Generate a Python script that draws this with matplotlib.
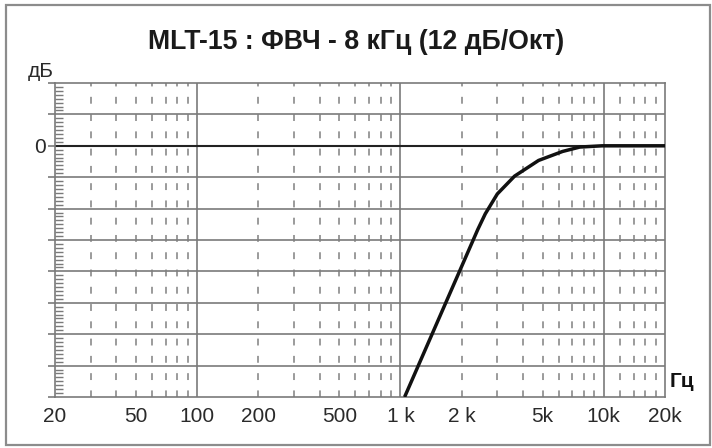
import numpy as np
import matplotlib
matplotlib.use("Agg")
import matplotlib.pyplot as plt
from matplotlib.patches import Rectangle

plt.rcParams['font.family'] = ['Liberation Sans', 'DejaVu Sans']

title = "MLT-15 : ФВЧ - 8 кГц (12 дБ/Окт)"

# response curve
freq = [1048, 2400, 2613, 2995, 3640, 4777, 6270, 7619, 9817, 20000]
db = [-24, -8.0, -6.5, -4.6, -2.9, -1.4, -0.54, -0.12, 0, 0]

x_ticks = [20, 50, 100, 200, 500, 1000, 2000, 5000, 10000, 20000]
x_labels = ["20", "50", "100", "200", "500", "1 k", "2 k", "5k", "10k", "20k"]
decades = [100, 1000, 10000]
minor_f = [30, 40, 50, 60, 70, 80, 90,
           200, 300, 400, 500, 600, 700, 800, 900,
           2000, 3000, 4000, 5000, 6000, 7000, 8000, 9000,
           12000, 14000, 16000, 18000]
y_grid = [3, 0, -3, -6, -9, -12, -15, -18, -21]
y_min, y_max = -24, 6

grid_c = "#7a7a7a"
text_c = "#2a2a2a"

fig = plt.figure(figsize=(7.12, 4.48), dpi=100)
fig.patches.append(Rectangle((6 / 712, 3 / 448), 704 / 712, 440 / 448, transform=fig.transFigure,
                             fill=False, edgecolor="#8c8c8c", linewidth=1.6))

ax = fig.add_axes([55 / 712, 1 - 397 / 448, 610 / 712, 314 / 448])
ax.set_xscale("log")
ax.set_xlim(20, 20000)
ax.set_ylim(y_min, y_max)

# dashed minor verticals, dashes centred on every grid line and half-step
period = 314 / 20 * 0.72
on = 4.5
for f in minor_f:
    ax.plot([f, f], [y_max, y_min], color="#808080", lw=1.1,
            linestyle=(on / 2, (on, period - on)), zorder=2)
for f in decades:
    ax.plot([f, f], [y_max, y_min], color=grid_c, lw=1.2, zorder=1)
for y in y_grid:
    if y == 0:
        continue
    ax.axhline(y, color=grid_c, lw=1.2, zorder=1)
ax.axhline(0, color="#222222", lw=1.5, zorder=2)

ax.plot(freq, db, color="#111111", lw=2.5, solid_capstyle="butt", solid_joinstyle="round", zorder=3)

for s in ax.spines.values():
    s.set_color(grid_c)
    s.set_linewidth(1.2)

ax.set_xticks(x_ticks)
ax.set_xticklabels(x_labels)
ax.xaxis.set_minor_locator(matplotlib.ticker.NullLocator())
ax.tick_params(axis="x", length=0, pad=7, labelsize=15, labelcolor=text_c)

ax.set_yticks([y_max] + y_grid + [y_min])
ax.set_yticklabels([""] * (len(y_grid) + 2))
ax.yaxis.set_minor_locator(matplotlib.ticker.MultipleLocator(3 / 8))
ax.tick_params(axis="y", which="major", direction="out", length=5, width=1.2, color=grid_c)
ax.tick_params(axis="y", which="minor", direction="in", length=6, width=1.0, color=grid_c)

ax.text(-0.015, -0.2, "0", transform=ax.get_yaxis_transform(), ha="right", va="center",
        fontsize=15, color=text_c)
ax.text(-0.002, y_max + 0.15, "дБ", transform=ax.get_yaxis_transform(), ha="right", va="bottom",
        fontsize=15, color=text_c)
ax.text(1.008, 0.02, "Гц", transform=ax.transAxes, ha="left", va="bottom",
        fontsize=15, color="#111111", fontweight="bold")

fig.text(356 / 712, 1 - 42 / 448, title, ha="center", va="center", fontsize=19.2,
         fontweight="bold", color="#1a1a1a")

fig.savefig("out.png", dpi=100)
